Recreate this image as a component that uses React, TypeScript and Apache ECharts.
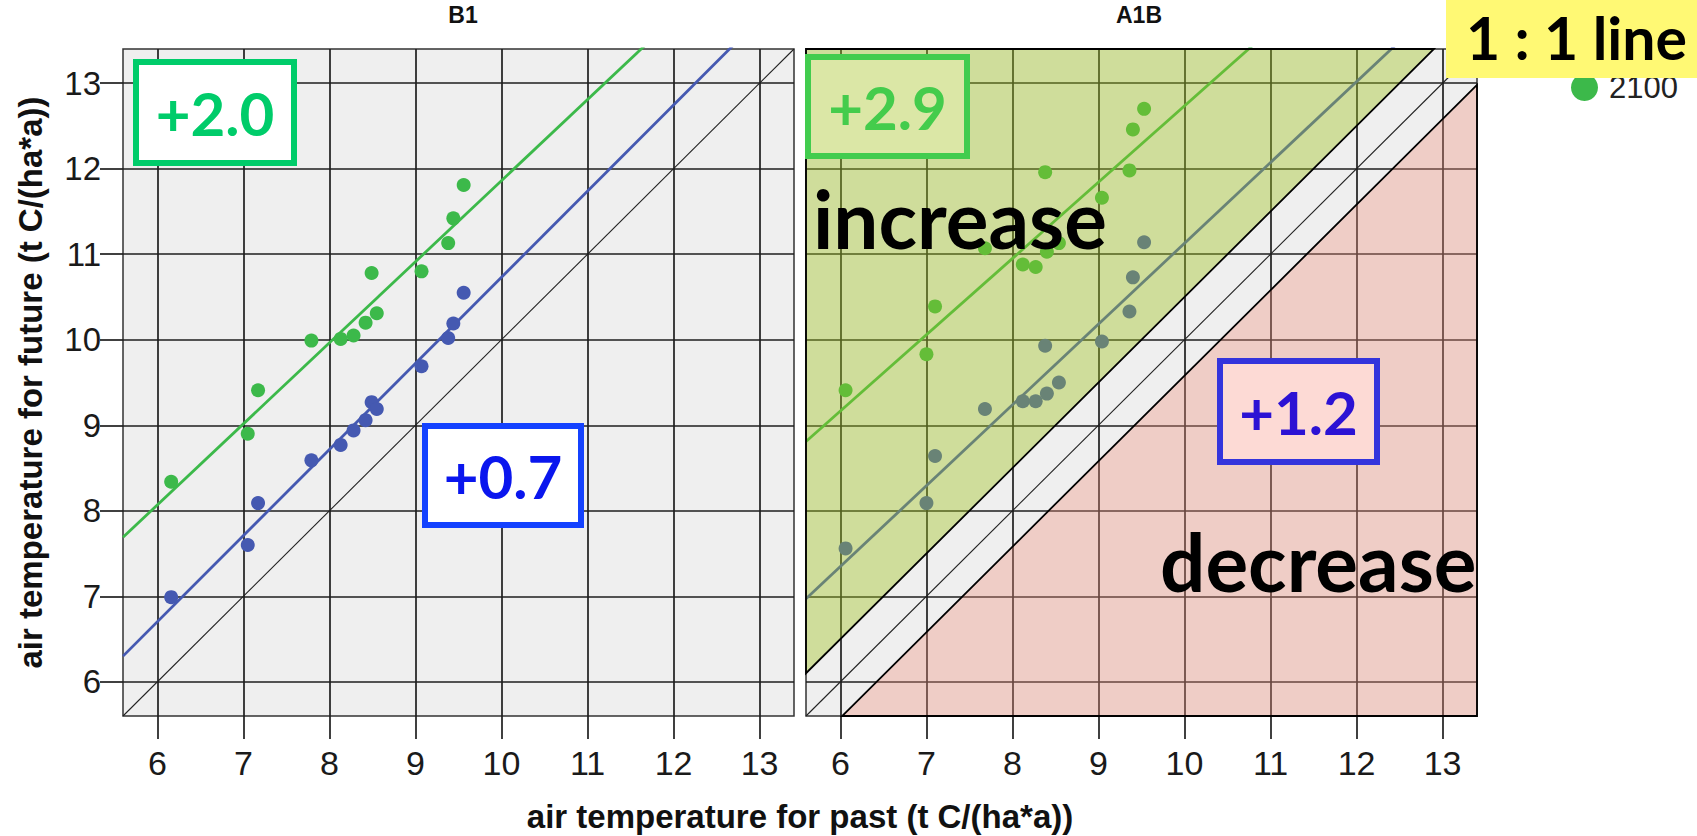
import React, { useEffect, useRef } from "react";
import * as echarts from "echarts";

// Axis range and tick positions shared by both panels
const AXIS_MIN = 5.6;
const AXIS_MAX = 13.4;
const TICKS = [6, 7, 8, 9, 10, 11, 12, 13];

// B1 scenario: past vs. future air temperature per station
const PAST_B1 = [6.16, 7.05, 7.17, 7.79, 8.13, 8.28, 8.42, 8.49, 8.55, 9.07, 9.38, 9.44, 9.56];
const FUTURE_B1_2050 = [6.99, 7.6, 8.09, 8.59, 8.77, 8.94, 9.06, 9.27, 9.19, 9.69, 10.02, 10.19, 10.55];
const FUTURE_B1_2100 = [8.34, 8.9, 9.41, 9.99, 10.01, 10.05, 10.2, 10.78, 10.31, 10.8, 11.13, 11.42, 11.81];

// A1B scenario
const PAST_A1B = [6.06, 7.0, 7.1, 7.68, 8.12, 8.27, 8.4, 8.38, 8.54, 9.04, 9.36, 9.4, 9.53];
const FUTURE_A1B_2050 = [7.56, 8.09, 8.64, 9.19, 9.28, 9.28, 9.37, 9.93, 9.5, 9.98, 10.33, 10.73, 11.14];
const FUTURE_A1B_2100 = [9.41, 9.83, 10.39, 11.07, 10.88, 10.85, 11.03, 11.96, 11.13, 11.66, 11.98, 12.46, 12.7];

// Fitted lines as [intercept, slope]
const FIT_B1_2050 = [0.661, 1.007];
const FIT_B1_2100 = [2.381, 0.948];
const FIT_A1B_2050 = [1.678, 0.945];
const FIT_A1B_2100 = [3.815, 0.892];

// Shaded zones of the A1B panel (data coordinates)
const INCREASE_ZONE = [
  [5.6, 6.1],
  [5.6, 13.4],
  [12.9, 13.4],
];
const DECREASE_ZONE = [
  [6.02, 5.6],
  [13.4, 5.6],
  [13.4, 12.98],
];

const SERIES_LEGEND = ["2100"];

const BLUE = "#4559b1";
const GREEN = "#3cb94a";
const GRID_LINE = "#1e1e1e";
const SANS = "'Liberation Sans', Arial, sans-serif";
const CALLOUT = "Lato, 'Open Sans', sans-serif";

const pairs = (xs: number[], ys: number[]) => xs.map((x, i) => [x, ys[i]]);
const fitLine = (fit: number[]) => [
  [AXIS_MIN, fit[0] + fit[1] * AXIS_MIN],
  [AXIS_MAX, fit[0] + fit[1] * AXIS_MAX],
];

function makeXAxis(gridIndex: number) {
  return {
    type: "value",
    gridIndex,
    min: AXIS_MIN,
    max: AXIS_MAX,
    splitNumber: 8,
    minInterval: 1,
    maxInterval: 1,
    axisLine: { show: false },
    axisTick: {
      show: true,
      length: 23,
      customValues: TICKS,
      lineStyle: { color: GRID_LINE, width: 1.7 },
    },
    axisLabel: {
      customValues: TICKS,
      fontSize: 34,
      color: "#1a1a1a",
      margin: 30,
      fontFamily: SANS,
    },
    splitLine: { show: true, lineStyle: { color: GRID_LINE, width: 1.7 } },
  };
}

function makeYAxis(gridIndex: number, withLabels: boolean) {
  return {
    type: "value",
    gridIndex,
    min: AXIS_MIN,
    max: AXIS_MAX,
    splitNumber: 8,
    minInterval: 1,
    maxInterval: 1,
    name: withLabels ? "air temperature for future (t C/(ha*a))" : "",
    nameLocation: "middle",
    nameRotate: 90,
    nameGap: 76,
    nameTextStyle: { fontSize: 33, fontWeight: "bold", color: "#111", fontFamily: SANS },
    axisLine: { show: false },
    axisTick: {
      show: withLabels,
      length: 23,
      customValues: TICKS,
      lineStyle: { color: GRID_LINE, width: 1.7 },
    },
    axisLabel: {
      show: withLabels,
      customValues: TICKS,
      fontSize: 33,
      color: "#1a1a1a",
      margin: 22,
      fontFamily: SANS,
    },
    splitLine: { show: true, lineStyle: { color: GRID_LINE, width: 1.7 } },
  };
}

function scatter(name: string, idx: number, xs: number[], ys: number[], color: string) {
  return {
    type: "scatter",
    name,
    xAxisIndex: idx,
    yAxisIndex: idx,
    data: pairs(xs, ys),
    symbolSize: 14,
    itemStyle: { color, opacity: 1 },
    z: 2,
  };
}

function line(name: string, idx: number, data: number[][], color: string, width: number) {
  return {
    type: "line",
    name,
    xAxisIndex: idx,
    yAxisIndex: idx,
    data,
    symbol: "none",
    clip: true,
    lineStyle: { color, width },
    z: 2,
  };
}

function callout(
  x: number,
  y: number,
  w: number,
  h: number,
  label: string,
  fill: string,
  stroke: string,
  color: string
) {
  return [
    {
      type: "rect",
      z: 100,
      shape: { x, y, width: w, height: h },
      style: { fill, stroke, lineWidth: 6 },
    },
    {
      type: "text",
      z: 101,
      x: x + w / 2,
      y: y + h / 2,
      style: {
        text: label,
        fill: color,
        font: `bold 60px ${CALLOUT}`,
        textAlign: "center",
        textVerticalAlign: "middle",
      },
    },
  ];
}

export default function App() {
  const ref = useRef<HTMLDivElement>(null);

  useEffect(() => {
    if (!ref.current) return;
    const chart = echarts.init(ref.current, undefined, { renderer: "svg" });

    const zones = [
      { pts: INCREASE_ZONE, fill: "rgba(160,196,30,0.4)" },
      { pts: DECREASE_ZONE, fill: "rgba(242,142,122,0.35)" },
    ];

    chart.setOption({
      animation: false,
      backgroundColor: "#ffffff",
      grid: [
        {
          left: 123,
          top: 49,
          width: 671,
          height: 667,
          show: true,
          backgroundColor: "#efefef",
          borderColor: "#333",
          borderWidth: 1.5,
        },
        {
          left: 806,
          top: 49,
          width: 671,
          height: 667,
          show: true,
          backgroundColor: "#efefef",
          borderColor: "#333",
          borderWidth: 1.5,
        },
      ],
      xAxis: [makeXAxis(0), makeXAxis(1)],
      yAxis: [makeYAxis(0, true), makeYAxis(1, false)],
      legend: {
        data: SERIES_LEGEND,
        left: 1566,
        top: 67,
        icon: "circle",
        itemWidth: 27,
        itemHeight: 27,
        selectedMode: false,
        z: 4,
        textStyle: { fontSize: 31, color: "#222", fontFamily: SANS, padding: [0, 0, 0, 6] },
      },
      series: [
        line("1:1", 0, [[AXIS_MIN, AXIS_MIN], [AXIS_MAX, AXIS_MAX]], "#222", 1.1),
        line("fit 2050", 0, fitLine(FIT_B1_2050), BLUE, 2.8),
        line("fit 2100", 0, fitLine(FIT_B1_2100), GREEN, 2.8),
        scatter("2050", 0, PAST_B1, FUTURE_B1_2050, BLUE),
        scatter("2100", 0, PAST_B1, FUTURE_B1_2100, GREEN),

        line("1:1", 1, [[AXIS_MIN, AXIS_MIN], [AXIS_MAX, AXIS_MAX]], "#222", 1.1),
        line("fit 2050", 1, fitLine(FIT_A1B_2050), BLUE, 2.8),
        line("fit 2100", 1, fitLine(FIT_A1B_2100), GREEN, 2.8),
        scatter("2050", 1, PAST_A1B, FUTURE_A1B_2050, BLUE),
        scatter("2100", 1, PAST_A1B, FUTURE_A1B_2100, GREEN),
        {
          type: "custom",
          name: "zones",
          xAxisIndex: 1,
          yAxisIndex: 1,
          z: 5,
          silent: true,
          data: zones.map((zn) => zn.pts[0]),
          renderItem: (params: any, api: any) => {
            const zn = zones[params.dataIndex];
            return {
              type: "polygon",
              shape: { points: zn.pts.map((p) => api.coord(p)) },
              style: { fill: zn.fill, stroke: "#000", lineWidth: 1.8 },
            };
          },
        },
      ],
      graphic: {
        elements: [
          {
            type: "text",
            z: 100,
            x: 463,
            y: 15,
            style: { text: "B1", font: `bold 23px ${SANS}`, fill: "#111", textAlign: "center", textVerticalAlign: "middle" },
          },
          {
            type: "text",
            z: 100,
            x: 1139,
            y: 15,
            style: { text: "A1B", font: `bold 23px ${SANS}`, fill: "#111", textAlign: "center", textVerticalAlign: "middle" },
          },
          {
            type: "text",
            z: 100,
            x: 800,
            y: 816,
            style: {
              text: "air temperature for past (t C/(ha*a))",
              font: `bold 33px ${SANS}`,
              fill: "#111",
              textAlign: "center",
              textVerticalAlign: "middle",
            },
          },
          ...callout(136, 62, 158, 101, "+2.0", "#ffffff", "#00cc6a", "#00cc6a"),
          ...callout(425, 426, 156, 99, "+0.7", "#ffffff", "#1442ff", "#0a16ee"),
          ...callout(808, 57, 159, 99, "+2.9", "#dbe7a6", "#42cc4e", "#44cc4c"),
          ...callout(1220, 361, 157, 101, "+1.2", "#fddad5", "#3434dc", "#2c12d4"),
          {
            type: "text",
            z: 100,
            x: 813,
            y: 218,
            style: { text: "increase", font: `bold 80px ${CALLOUT}`, fill: "#000", textAlign: "left", textVerticalAlign: "middle" },
          },
          {
            type: "text",
            z: 100,
            x: 1160,
            y: 561,
            style: { text: "decrease", font: `bold 80px ${CALLOUT}`, fill: "#000", textAlign: "left", textVerticalAlign: "middle" },
          },
          {
            type: "rect",
            z: 110,
            shape: { x: 1446, y: 0, width: 251, height: 78 },
            style: { fill: "#fff974" },
          },
          {
            type: "text",
            z: 111,
            x: 1466,
            y: 37,
            style: { text: "1 : 1 line", font: `bold 59px ${CALLOUT}`, fill: "#000", textAlign: "left", textVerticalAlign: "middle" },
          },
        ],
      },
    });

    return () => chart.dispose();
  }, []);

  return (
    <div
      ref={ref}
      style={{ position: "fixed", left: 0, top: 0, width: 1697, height: 836, background: "#fff" }}
    />
  );
}
